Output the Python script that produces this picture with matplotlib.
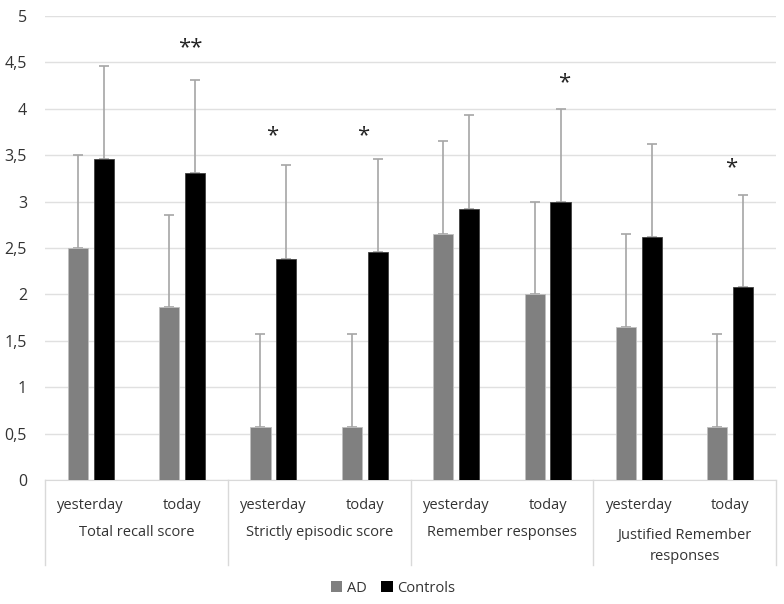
import matplotlib
matplotlib.use("Agg")
import matplotlib.pyplot as plt
import numpy as np
from matplotlib.patches import Patch

plt.rcParams['font.family'] = ['Open Sans', 'DejaVu Sans']

groups = ["Total recall score", "Strictly episodic score", "Remember responses", "Justified Remember\nresponses"]
subcats = ["yesterday", "today"] * 4
ad_vals = [2.50, 1.86, 0.57, 0.57, 2.65, 2.00, 1.65, 0.57]
ad_err = [1.00, 1.00, 1.00, 1.00, 1.00, 1.00, 1.00, 1.00]
ctrl_vals = [3.46, 3.31, 2.38, 2.46, 2.92, 3.00, 2.62, 2.08]
ctrl_err = [1.00, 1.00, 1.01, 1.00, 1.01, 1.00, 1.00, 0.99]
sig_x = [1.09, 1.99, 2.98, 5.18, 7.01]
sig_y = [4.66, 3.71, 3.71, 4.28, 3.36]
sig_txt = ["**", "*", "*", "*", "*"]
yticks = [0, 0.5, 1, 1.5, 2, 2.5, 3, 3.5, 4, 4.5, 5]

fig = plt.figure(figsize=(7.84, 6.04), dpi=100)
ax = fig.add_axes([45/784, 124/604, 731/784, 464/604])

x = np.arange(len(subcats))
w = 0.22
off = 0.142
ad_color = "#808080"
ctrl_color = "#000000"
err_color = "#a6a6a6"
txt_color = "#333333"

ax.bar(x - off, ad_vals, w, color=ad_color, edgecolor="#bfbfbf", linewidth=0.6, zorder=3)
ax.bar(x + off, ctrl_vals, w, color=ctrl_color, edgecolor="#404040", linewidth=0.6, zorder=3)
ax.errorbar(x - off, ad_vals, yerr=[np.zeros(len(x)), ad_err], fmt="none", ecolor=err_color,
            elinewidth=1.2, capsize=3.5, capthick=1.2, zorder=2)
ax.errorbar(x + off, ctrl_vals, yerr=[np.zeros(len(x)), ctrl_err], fmt="none", ecolor=err_color,
            elinewidth=1.2, capsize=3.5, capthick=1.2, zorder=2)

for sx, sy, st in zip(sig_x, sig_y, sig_txt):
    ax.text(sx, sy, st, ha="center", va="center", fontsize=16, color="#222222")

ax.set_xlim(-0.5, len(subcats) - 0.5)
ax.set_ylim(0, 5)
ax.set_yticks(yticks)
ax.set_yticklabels([f"{t:g}".replace(".", ",") for t in yticks], fontsize=11.5, color=txt_color)
ax.tick_params(axis="y", length=0, pad=13)
ax.set_xticks([])
ax.grid(axis="y", color="#e0e0e0", linewidth=1, zorder=0)
for s in ["top", "right", "left"]:
    ax.spines[s].set_visible(False)
ax.spines["bottom"].set_color("#d9d9d9")

tr = ax.get_xaxis_transform()
for i, s in enumerate(subcats):
    ax.text(i, -0.054, s, transform=tr, ha="center", va="center", fontsize=10.5, color=txt_color)
for g, name in enumerate(groups):
    yy = -0.143 if "\n" in name else -0.114
    ax.text(2 * g + 0.5, yy, name, transform=tr, ha="center", va="center", fontsize=10.5,
            color=txt_color, linespacing=1.55)
for b in [-0.5, 1.5, 3.5, 5.5, 7.5]:
    ax.plot([b, b], [0, -0.183], transform=tr, color="#d9d9d9", linewidth=1, clip_on=False)

handles = [Patch(facecolor=ad_color, label="AD"), Patch(facecolor=ctrl_color, label="Controls")]
fig.legend(handles=handles, loc="center", bbox_to_anchor=(393/784, 16/604), ncol=2, frameon=False,
           fontsize=10.5, handlelength=0.8, handleheight=0.8, handletextpad=0.3, columnspacing=1.0,
           labelcolor=txt_color)

fig.savefig("out.png", dpi=100)
